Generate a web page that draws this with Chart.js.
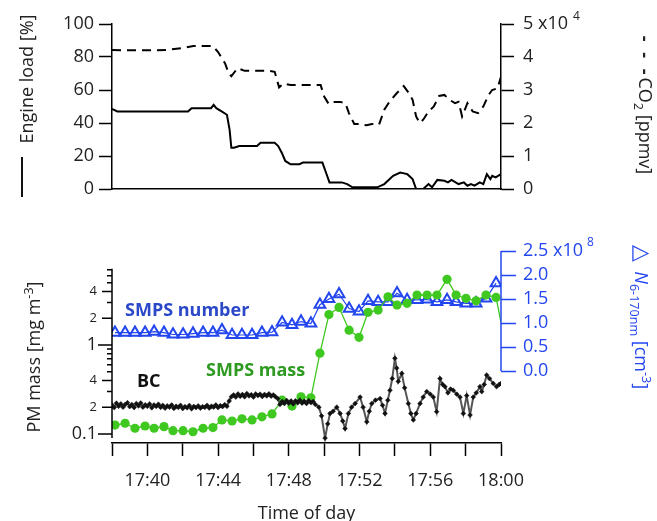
<!DOCTYPE html>
<html>
<head>
<meta charset="utf-8">
<script src="https://cdn.jsdelivr.net/npm/chart.js@4.4.1/dist/chart.umd.min.js"></script>
<style>
  body { margin: 0; background: #fff; font-family: "Open Sans", sans-serif; }
  #wrap { position: relative; width: 657px; height: 521px; overflow: hidden; }
  canvas { position: absolute; left: 0; }
  .lbl { position: absolute; white-space: nowrap; line-height: 1; }
  .rotL { transform: translate(-50%, -50%) rotate(-90deg); }
  .rotR { transform: translate(-50%, -50%) rotate(90deg); }
  sub, sup { font-size: 70%; }
</style>
</head>
<body>
<div id="wrap">
  <canvas id="topChart" width="657" height="215" style="top:0"></canvas>
  <canvas id="botChart" width="657" height="306" style="top:215px"></canvas>

  <div class="lbl rotL" style="left:26px; top:79px; font-size:18px; color:#222;">Engine load [%]</div>
  <div class="lbl" style="left:21px; top:157px; width:2px; height:40px; background:#111;"></div>
  <div class="lbl rotR" style="left:643px; top:105px; font-size:18px; color:#222;"><b style="letter-spacing:3px;">- - -</b>CO<sub>2</sub> [ppmv]</div>
  <div class="lbl" style="left:573px; top:10px; font-size:12px; color:#222;">4</div>

  <div class="lbl rotL" style="left:32px; top:357px; font-size:18px; color:#222;">PM mass [mg m<sup>-3</sup>]</div>
  <div class="lbl rotR" style="left:641px; top:317px; font-size:18px; color:#2346ee;"><span style="font-size:22px;">&#9651;</span>&nbsp;&nbsp;<i>N</i><sub>6-170nm</sub> [cm<sup>-3</sup>]</div>
  <div class="lbl" style="left:587px; top:236px; font-size:12px; color:#2346ee;">8</div>

  <div class="lbl" style="left:125px; top:300px; font-size:18px; font-weight:bold; color:#2a48c8;">SMPS number</div>
  <div class="lbl" style="left:206px; top:360px; font-size:18px; font-weight:bold; color:#2f9a22;">SMPS mass</div>
  <div class="lbl" style="left:137px; top:371px; font-size:18px; font-weight:bold; color:#111;">BC</div>
</div>

<script>
// minutes after 17:00
const engineT = [38.0, 38.3, 42.3, 42.5, 43.6, 43.75, 43.9, 44.2, 44.5, 44.65, 44.75, 44.9, 45.2, 46.2, 46.4, 47.2, 47.4, 47.6, 47.8, 48.1, 48.6, 48.8, 49.9, 50.1, 50.3, 51.0, 51.3, 51.6, 52.9, 53.0, 53.4, 53.9, 54.3, 54.7, 55.0, 55.2, 55.6, 55.9, 56.1, 56.4, 56.8, 57.0, 57.2, 57.6, 57.9, 58.1, 58.3, 58.5, 58.8, 59.0, 59.2, 59.4, 59.5, 59.7, 60.0];
const engineLoad = [48.5, 47, 47, 49, 49, 51, 49, 47, 45, 36, 25, 25, 26, 26, 28, 28, 26, 22, 17, 15, 15, 16, 16, 10, 4, 4, 3, 1, 1, 1, 3, 8, 10, 9, 6, 0, 0, 3, 1, 5.5, 5, 4, 5.5, 3, 4, 2, 3, 2, 4, 3, 9, 6, 8, 7, 9];

const co2T = [38.0, 40.5, 41.2, 42.0, 42.6, 43.7, 44.0, 44.4, 44.6, 44.75, 45.1, 45.5, 46.9, 47.2, 47.45, 47.7, 48.1, 49.8, 50.0, 50.25, 50.5, 50.9, 51.2, 51.4, 51.7, 52.0, 52.4, 52.7, 53.1, 53.4, 53.7, 54.1, 54.5, 54.8, 55.0, 55.2, 55.4, 55.6, 55.9, 56.2, 56.5, 56.8, 57.1, 57.4, 57.6, 57.8, 58.1, 58.4, 58.7, 59.0, 59.3, 59.5, 59.8, 60.0];
const co2 = [4.21, 4.2, 4.22, 4.27, 4.33, 4.33, 4.15, 3.8, 3.5, 3.42, 3.66, 3.58, 3.58, 3.55, 3.08, 3.2, 3.15, 3.15, 2.8, 2.58, 2.64, 2.64, 2.6, 2.3, 1.97, 1.97, 1.93, 1.97, 1.95, 2.4, 2.65, 2.9, 3.12, 2.9, 2.7, 2.2, 2.0, 2.1, 2.35, 2.5, 2.82, 2.85, 2.7, 2.6, 2.64, 2.2, 2.6, 2.35, 2.3, 2.5, 2.85, 3.0, 3.05, 3.4]; // x10^4 ppmv

const smpsT = [38.17, 38.74, 39.30, 39.87, 40.38, 40.94, 41.45, 42.02, 42.58, 43.15, 43.71, 44.22, 44.79, 45.35, 45.92, 46.48, 47.05, 47.62, 48.18, 48.69, 49.25, 49.76, 50.27, 50.84, 51.41, 51.97, 52.48, 53.05, 53.61, 54.12, 54.69, 55.25, 55.82, 56.38, 56.95, 57.46, 58.02, 58.59, 59.15, 59.72, 60.0];
const smpsMass = [0.126, 0.132, 0.116, 0.123, 0.116, 0.121, 0.109, 0.109, 0.106, 0.116, 0.118, 0.144, 0.14, 0.148, 0.144, 0.156, 0.168, 0.24, 0.206, 0.262, 0.255, 0.81, 2.2, 2.65, 1.47, 1.22, 2.33, 2.47, 3.49, 2.81, 2.94, 3.65, 3.65, 3.65, 5.47, 3.65, 3.35, 3.14, 3.65, 3.43, 1.8];
const smpsNumber = [0.80, 0.80, 0.80, 0.80, 0.82, 0.80, 0.76, 0.76, 0.78, 0.80, 0.80, 0.85, 0.75, 0.75, 0.75, 0.80, 0.81, 1.01, 0.96, 1.03, 0.99, 1.38, 1.50, 1.60, 1.30, 1.24, 1.46, 1.44, 1.44, 1.62, 1.48, 1.48, 1.49, 1.44, 1.48, 1.44, 1.41, 1.41, 1.51, 1.83, null]; // x10^8 cm-3

const bcT = [38, 38.125, 38.25, 38.375, 38.5, 38.625, 38.75, 38.875, 39, 39.125, 39.25, 39.375, 39.5, 39.625, 39.75, 39.875,
  40, 40.125, 40.25, 40.375, 40.5, 40.625, 40.75, 40.875, 41, 41.125, 41.25, 41.375, 41.5, 41.625, 41.75, 41.875,
  42, 42.125, 42.25, 42.375, 42.5, 42.625, 42.75, 42.875, 43, 43.125, 43.25, 43.375, 43.5, 43.625, 43.75, 43.875,
  44, 44.125, 44.25, 44.375, 44.5,
  44.625, 44.75, 44.875, 45, 45.125, 45.25, 45.375, 45.5, 45.625, 45.75, 45.875, 46, 46.125, 46.25, 46.375, 46.5,
  46.625, 46.75, 46.875, 47, 47.125, 47.25, 47.375,
  47.5, 47.625, 47.75, 47.875, 48, 48.125, 48.25, 48.375, 48.5, 48.625, 48.75, 48.875, 49, 49.125, 49.25, 49.375, 49.5,
  49.7, 49.85, 50.05, 50.2, 50.33, 50.5, 50.71, 50.9, 51.05, 51.18, 51.37, 51.55, 51.75, 52.03, 52.2, 52.41, 52.55,
  52.69, 52.9, 53.16, 53.3, 53.44, 53.6, 53.72, 53.85, 54.0, 54.1, 54.19, 54.39, 54.55, 54.76, 54.9, 55.04, 55.2,
  55.42, 55.6, 55.8, 56.0, 56.17, 56.36, 56.55, 56.7, 56.83, 57.0, 57.15, 57.3, 57.5, 57.68, 57.87, 58.06, 58.25,
  58.43, 58.6, 58.81, 58.91, 59.05, 59.19, 59.35, 59.56, 59.75, 59.9, 60.0];
const bcMass = [0.212, 0.198, 0.222, 0.205, 0.218, 0.2, 0.215, 0.225, 0.203, 0.214, 0.198, 0.22, 0.207, 0.223, 0.2, 0.213,
  0.205, 0.218, 0.197, 0.212, 0.204, 0.216, 0.199, 0.21, 0.195, 0.207, 0.2, 0.212, 0.194, 0.205, 0.199, 0.21,
  0.193, 0.203, 0.197, 0.209, 0.192, 0.204, 0.198, 0.207, 0.195, 0.203, 0.199, 0.21, 0.196, 0.205, 0.2, 0.212,
  0.198, 0.208, 0.203, 0.214, 0.205,
  0.235, 0.262, 0.275, 0.26, 0.282, 0.265, 0.278, 0.262, 0.285, 0.268, 0.276, 0.26, 0.282, 0.27, 0.28, 0.264,
  0.278, 0.268, 0.283, 0.266, 0.275, 0.262, 0.25,
  0.215, 0.232, 0.22, 0.238, 0.222, 0.235, 0.218, 0.236, 0.224, 0.24, 0.222, 0.234, 0.22, 0.237, 0.225, 0.232, 0.215,
  0.2, 0.16, 0.09, 0.13, 0.17, 0.18, 0.2, 0.17, 0.14, 0.115, 0.17, 0.2, 0.22, 0.26, 0.2, 0.137, 0.18,
  0.22, 0.24, 0.25, 0.21, 0.17, 0.24, 0.31, 0.42, 0.71, 0.55, 0.39, 0.48, 0.33, 0.22, 0.17, 0.144, 0.17,
  0.22, 0.26, 0.30, 0.28, 0.26, 0.178, 0.42, 0.36, 0.34, 0.29, 0.32, 0.31, 0.28, 0.26, 0.17, 0.27, 0.163,
  0.26, 0.29, 0.34, 0.30, 0.36, 0.46, 0.42, 0.37, 0.34, 0.36, 0.37];

const timeTicks = [38, 40, 42, 44, 46, 48, 50, 52, 54, 56, 58, 60];
const timeLabels = {40: '17:40', 44: '17:44', 48: '17:48', 52: '17:52', 56: '17:56', 60: '18:00'};
const logTicks = [0.1, 0.2, 0.3, 0.4, 0.5, 0.6, 0.7, 0.8, 0.9, 1, 2, 3, 4, 5, 6, 7];
const logLabels = {0.1: '0.1', 0.2: '2', 0.4: '4', 1: '1', 2: '2', 4: '4'};
const numTicks = [0, 0.5, 1.0, 1.5, 2.0, 2.5];

const BLUE = '#2346ee';
const GREEN = '#3fc81f';
const INK = '#222';

Chart.defaults.font.family = "'Open Sans', sans-serif";
Chart.defaults.color = INK;

function pts(xs, ys) {
  return xs.map((x, i) => ({ x: x, y: ys[i] }));
}

// top panel: engine load + CO2
new Chart(document.getElementById('topChart'), {
  type: 'line',
  data: {
    datasets: [
      {
        data: pts(engineT, engineLoad),
        yAxisID: 'y',
        borderColor: '#000',
        borderWidth: 2,
        pointRadius: 0
      },
      {
        data: pts(co2T, co2),
        yAxisID: 'y2',
        borderColor: '#000',
        borderWidth: 2,
        borderDash: [9, 6],
        pointRadius: 0
      }
    ]
  },
  options: {
    responsive: false,
    animation: false,
    layout: { padding: { top: 24, left: 0, right: 0, bottom: 0 } },
    plugins: { legend: { display: false }, tooltip: { enabled: false } },
    scales: {
      x: {
        type: 'linear', min: 38, max: 60,
        ticks: { display: false },
        grid: { drawOnChartArea: false, drawTicks: false },
        border: { color: '#000', width: 1.5 },
        afterFit: s => { s.height = 26; }
      },
      y: {
        position: 'left', min: 0, max: 100,
        ticks: { stepSize: 20, font: { size: 18 }, padding: 5, color: INK },
        grid: { drawOnChartArea: false, tickLength: 13, tickColor: '#000', tickWidth: 1.5 },
        border: { color: '#000', width: 1.5 },
        afterFit: s => { s.width = 112; }
      },
      y2: {
        position: 'right', min: 0, max: 5,
        ticks: {
          stepSize: 1, font: { size: 18 }, padding: 9, color: INK,
          callback: v => (v === 5 ? '5 x10' : String(v))
        },
        grid: { drawOnChartArea: false, tickLength: 13, tickColor: '#000', tickWidth: 1.5 },
        border: { color: '#000', width: 1.5 },
        afterFit: s => { s.width = 156; }
      }
    }
  }
});

// partial axis lines + log minor ticks for the bottom panel
const axisDecor = {
  id: 'axisDecor',
  afterDraw(chart) {
    const { ctx, chartArea, scales } = chart;
    const y = scales.y, yN = scales.yN;
    ctx.save();
    ctx.lineWidth = 1.5;
    ctx.strokeStyle = '#000';
    ctx.beginPath();
    ctx.moveTo(chartArea.left, y.getPixelForValue(0.09));
    ctx.lineTo(chartArea.left, y.getPixelForValue(7.2));
    logTicks.forEach(v => {
      const py = y.getPixelForValue(v);
      const len = (v === 0.1 || v === 1) ? 14 : (logLabels[v] ? 10 : 5);
      ctx.moveTo(chartArea.left - len, py);
      ctx.lineTo(chartArea.left, py);
    });
    ctx.stroke();
    ctx.strokeStyle = BLUE;
    ctx.beginPath();
    ctx.moveTo(chartArea.right, yN.getPixelForValue(0));
    ctx.lineTo(chartArea.right, yN.getPixelForValue(2.5));
    ctx.stroke();
    ctx.restore();
  }
};

// bottom panel: PM mass (log) + SMPS number
new Chart(document.getElementById('botChart'), {
  type: 'line',
  data: {
    datasets: [
      {
        label: 'BC',
        data: pts(bcT, bcMass),
        yAxisID: 'y',
        order: 0,
        borderColor: '#555',
        borderWidth: 2,
        pointStyle: 'rectRot',
        pointRadius: 2.4,
        pointBackgroundColor: '#111',
        pointBorderColor: '#111',
        pointBorderWidth: 0.5
      },
      {
        label: 'SMPS mass',
        data: pts(smpsT, smpsMass),
        yAxisID: 'y',
        order: 1,
        borderColor: GREEN,
        borderWidth: 1.3,
        pointStyle: 'circle',
        pointRadius: c => (c.dataIndex === smpsT.length - 1 ? 0 : 4.6),
        pointBackgroundColor: GREEN,
        pointBorderColor: GREEN,
        pointBorderWidth: 0
      },
      {
        label: 'SMPS number',
        data: pts(smpsT, smpsNumber),
        yAxisID: 'yN',
        order: 2,
        borderColor: BLUE,
        borderWidth: 1.2,
        pointStyle: 'triangle',
        pointRadius: 6.2,
        pointBackgroundColor: 'rgba(255,255,255,0)',
        pointBorderColor: BLUE,
        pointBorderWidth: 2
      }
    ]
  },
  options: {
    responsive: false,
    animation: false,
    layout: { padding: { top: 36, left: 0, right: 0, bottom: 0 } },
    plugins: { legend: { display: false }, tooltip: { enabled: false } },
    scales: {
      x: {
        type: 'linear', min: 38, max: 60,
        afterBuildTicks: s => { s.ticks = timeTicks.map(v => ({ value: v })); },
        ticks: {
          autoSkip: false, maxRotation: 0, font: { size: 18 }, padding: 14, color: INK,
          callback: v => timeLabels[v] || ''
        },
        grid: { drawOnChartArea: false, tickLength: 13, tickColor: '#000', tickWidth: 1.5 },
        border: { color: '#000', width: 1.5 },
        title: { display: true, text: 'Time of day', font: { size: 18 }, color: INK, padding: { top: 0, bottom: -4 } },
        afterFit: s => { s.height = 78; }
      },
      y: {
        type: 'logarithmic', position: 'left', min: 0.0792, max: 11.4,
        afterBuildTicks: s => { s.ticks = logTicks.map(v => ({ value: v })); },
        ticks: {
          autoSkip: false, padding: 15, color: INK,
          font: c => ({ size: (c.tick && (c.tick.value === 0.1 || c.tick.value === 1)) ? 18 : 13 }),
          callback: v => logLabels[v] || ''
        },
        grid: { drawOnChartArea: false, drawTicks: false },
        border: { display: false },
        afterFit: s => { s.width = 112; }
      },
      yN: {
        position: 'right', min: -1.5, max: 2.5,
        afterBuildTicks: s => { s.ticks = numTicks.map(v => ({ value: v })); },
        ticks: {
          autoSkip: false, font: { size: 18 }, padding: 7, color: BLUE,
          callback: v => (v === 2.5 ? '2.5 x10' : v.toFixed(1))
        },
        grid: { drawOnChartArea: false, tickLength: 15, tickColor: BLUE, tickWidth: 1.5 },
        border: { display: false },
        afterFit: s => { s.width = 156; }
      }
    }
  },
  plugins: [axisDecor]
});
</script>
</body>
</html>
